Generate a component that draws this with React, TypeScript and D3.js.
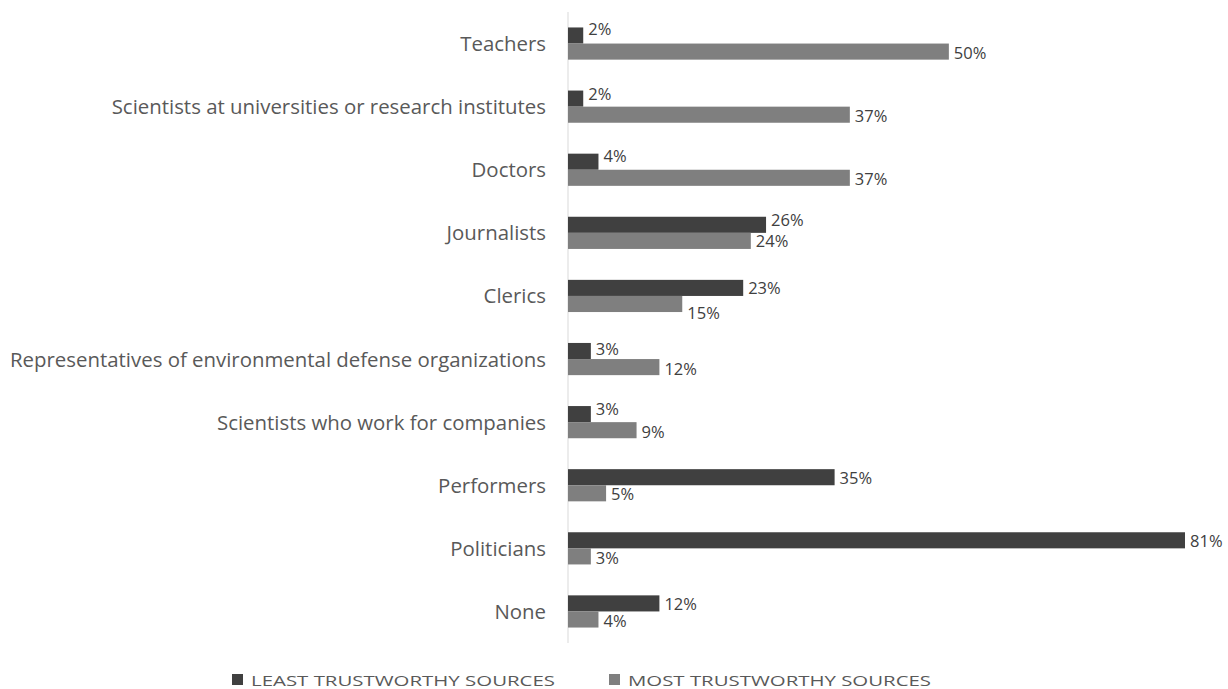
import React from "react";
import * as d3 from "d3";

const categories = [
  "Teachers",
  "Scientists at universities or research institutes",
  "Doctors",
  "Journalists",
  "Clerics",
  "Representatives of environmental defense organizations",
  "Scientists who work for companies",
  "Performers",
  "Politicians",
  "None",
];
const leastTrustworthy = [2, 2, 4, 26, 23, 3, 3, 35, 81, 12];
const mostTrustworthy = [50, 37, 37, 24, 15, 12, 9, 5, 3, 4];
const seriesNames = ["LEAST TRUSTWORTHY SOURCES", "MOST TRUSTWORTHY SOURCES"];
const seriesColors = ["#404040", "#7f7f7f"];
// vertical nudges of data labels (Excel moved some to avoid overlaps)
const leastLabelNudge = [-7, -5.5, -6.5, -5.5, 0, -3, -5.5, 0, 0, 0];
const mostLabelNudge = [1, 0.5, 0.5, 0, 8.5, 1, 1.5, 0.5, 1, 1];

const W = 1228;
const H = 689;
const FONT = "'Open Sans', sans-serif";

export default function App() {
  const x = d3.scaleLinear().domain([0, 81]).range([568, 1185]);
  const y = d3.scaleBand<string>().domain(categories).range([12, 643]).paddingInner(0.49).paddingOuter(0.245);
  const bw = y.bandwidth() / 2;
  const series = [leastTrustworthy, mostTrustworthy];
  const nudges = [leastLabelNudge, mostLabelNudge];
  return (
    <svg width={W} height={H} style={{ position: "absolute", left: 0, top: 0, background: "#fff" }}>
      <line x1={x(0)} x2={x(0)} y1={12} y2={643} stroke="#d9d9d9" strokeWidth={1} />
      {categories.map((c, i) => {
        const y0 = y(c)!;
        return (
          <g key={c}>
            <text x={546} y={y0 + bw - 0.5} textAnchor="end" dominantBaseline="central" fontFamily={FONT} fontSize={20.4} fill="#595959">
              {c}
            </text>
            {series.map((s, k) => (
              <g key={k}>
                <rect x={x(0)} y={y0 + k * bw} width={x(s[i]) - x(0)} height={bw} fill={seriesColors[k]} />
                <text
                  x={x(s[i]) + 5}
                  y={y0 + k * bw + bw / 2 + nudges[k][i]}
                  dominantBaseline="central"
                  fontFamily={FONT}
                  fontSize={16.5}
                  fill="#404040"
                >
                  {s[i]}%
                </text>
              </g>
            ))}
          </g>
        );
      })}
      {seriesNames.map((n, k) => {
        const lx = k === 0 ? 232 : 609;
        const tw = k === 0 ? 304 : 303;
        return (
          <g key={n}>
            <rect x={lx} y={674} width={11} height={11} fill={seriesColors[k]} />
            <text
              x={lx + 19}
              y={679.5}
              dominantBaseline="central"
              fontFamily={FONT}
              fontSize={15}
              fill="#595959"
              textLength={tw}
              lengthAdjust="spacingAndGlyphs"
            >
              {n}
            </text>
          </g>
        );
      })}
    </svg>
  );
}
